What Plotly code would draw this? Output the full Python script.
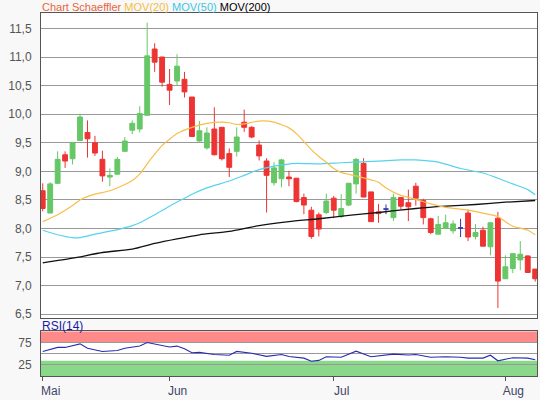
import pandas as pd
import plotly.graph_objects as go

# ---- data ----
dates = [d.strftime("%Y-%m-%d") for d in pd.bdate_range("2020-05-07", "2020-08-07")]

opens = [8.66, 8.27, 8.79, 9.29, 9.22, 9.54, 9.68, 9.50, 9.21, 8.90,
         8.95, 9.35, 9.72, 9.74, 9.98, 11.14, 11.00, 10.52, 10.58, 10.61,
         10.30, 9.53, 9.41, 9.74, 9.77, 9.31, 9.35, 9.86, 9.77, 9.46,
         9.18, 8.80, 8.87, 8.90, 8.88, 8.54, 8.32, 8.24, 8.28, 8.53,
         8.21, 8.41, 8.78, 9.14, 8.64, 8.29, 8.34, 8.19, 8.54, 8.45,
         8.74, 8.49, 8.17, 7.90, 8.00, 7.96, 8.01, 8.27, 7.86, 7.97,
         7.68, 8.18, 7.12, 7.30, 7.45, 7.52, 7.29]
highs = [8.79, 8.81, 9.35, 9.35, 9.51, 10.01, 9.89, 9.62, 9.36, 9.05,
         9.25, 9.60, 9.89, 10.14, 11.60, 11.24, 11.00, 10.79, 11.05, 10.74,
         10.30, 9.88, 9.77, 10.12, 9.77, 9.40, 9.77, 10.08, 9.79, 9.54,
         9.23, 9.16, 9.22, 9.01, 8.88, 8.61, 8.38, 8.28, 8.61, 8.57,
         8.60, 8.80, 9.23, 9.23, 8.64, 8.43, 8.42, 8.61, 8.55, 8.68,
         8.80, 8.52, 8.19, 8.22, 8.24, 8.14, 8.17, 8.33, 8.08, 8.03,
         8.10, 8.29, 7.53, 7.56, 7.78, 7.53, 7.29]
lows = [8.30, 8.27, 8.78, 9.06, 9.12, 9.54, 9.24, 9.27, 8.82, 8.74,
        8.94, 9.34, 9.65, 9.68, 9.98, 10.74, 10.48, 10.16, 10.50, 10.29,
        9.60, 9.52, 9.38, 9.28, 9.19, 8.90, 9.26, 9.69, 9.58, 9.19,
        8.28, 8.75, 8.72, 8.74, 8.46, 8.25, 7.82, 7.86, 8.25, 8.18,
        8.18, 8.39, 8.61, 8.55, 8.12, 8.10, 8.25, 8.13, 8.34, 8.13,
        8.40, 8.07, 7.90, 7.90, 7.99, 7.91, 7.85, 7.78, 7.81, 7.69,
        7.53, 6.61, 7.12, 7.22, 7.27, 7.23, 7.07]
closes = [8.35, 8.78, 9.21, 9.18, 9.50, 9.95, 9.57, 9.32, 8.92, 8.93,
          9.21, 9.53, 9.84, 10.01, 11.02, 10.91, 10.56, 10.42, 10.84, 10.39,
          9.61, 9.71, 9.67, 9.29, 9.22, 9.07, 9.60, 9.77, 9.60, 9.27,
          8.93, 9.06, 9.20, 8.87, 8.47, 8.41, 7.86, 7.99, 8.48, 8.32,
          8.35, 8.79, 9.21, 8.55, 8.12, 8.26, 8.34, 8.54, 8.39, 8.38,
          8.53, 8.19, 7.93, 8.07, 8.10, 8.08, 8.01, 7.85, 7.93, 7.69,
          8.10, 7.08, 7.33, 7.56, 7.55, 7.23, 7.12]

ma20_idx = [0, 2, 4, 5, 7, 9, 11, 12, 13, 14, 15, 16, 17, 18, 20, 22, 24, 25, 26, 27,
            29, 31, 33, 34, 35, 36, 37, 38, 39, 40, 42, 44, 45, 46, 48, 50, 52, 54, 57,
            59, 61, 62, 63, 65, 66]
ma20_val = [8.12, 8.24, 8.40, 8.50, 8.60, 8.66, 8.77, 8.84, 8.95, 9.13, 9.30, 9.45, 9.56,
            9.66, 9.77, 9.84, 9.86, 9.85, 9.82, 9.83, 9.88, 9.86, 9.76, 9.66, 9.52, 9.38,
            9.26, 9.16, 9.05, 8.98, 8.92, 8.85, 8.81, 8.71, 8.58, 8.51, 8.43, 8.37, 8.32,
            8.27, 8.21, 8.12, 8.04, 7.97, 7.89]

ma50_idx = [0, 2, 4, 5, 7, 10, 12, 13, 15, 17, 19, 20, 22, 25, 27, 29, 31, 34, 37, 40,
            45, 48, 50, 53, 56, 59, 61, 63, 65, 66]
ma50_val = [7.97, 7.89, 7.84, 7.84, 7.90, 7.98, 8.05, 8.10, 8.24, 8.39, 8.53, 8.60, 8.71,
            8.83, 8.93, 9.03, 9.09, 9.14, 9.13, 9.15, 9.18, 9.20, 9.20, 9.16, 9.05, 8.97,
            8.88, 8.78, 8.68, 8.59]

ma200_idx = [0, 4, 8, 12, 15, 18, 21, 25, 29, 33, 37, 41, 45, 50, 54, 58, 62, 66]
ma200_val = [7.40, 7.48, 7.58, 7.64, 7.74, 7.82, 7.89, 7.95, 8.05, 8.12, 8.17, 8.23, 8.28,
             8.35, 8.39, 8.42, 8.46, 8.49]

rsi_idx = [0, 2, 3, 5, 6, 8, 10, 11, 13, 14, 17, 18, 19, 20, 21, 23, 25, 26, 28, 30, 32,
           33, 35, 36, 37, 38, 40, 42, 44, 45, 47, 49, 50, 52, 54, 56, 57, 59, 60, 61, 63,
           65, 66]
rsi_val = [55, 64, 64, 72, 62, 55, 57, 62, 67, 75, 65, 67, 61, 52, 53, 48, 46.5, 55, 51,
           44, 48, 43.5, 40, 33, 35, 43, 42, 55.5, 43, 45, 49, 47, 48, 42, 43, 42, 40, 40,
           46.5, 34, 41, 40, 36.5]

month_idx = [0, 17, 39, 62]
month_labels = ["Mai", "Jun", "Jul", "Aug"]

# ---- styling ----
RED = "#EE3333"
GREEN = "#66C766"
DOJI = "#3333AA"
C20 = "#F7BE4C"
C50 = "#55D3EE"
C200 = "#111111"
FONT = "Liberation Sans, Arial, sans-serif"

is_doji = [o == c for o, c in zip(opens, closes)]

fig = go.Figure()

def sub(lst, mask):
    return [v if m else None for v, m in zip(lst, mask)]

normal = [not d for d in is_doji]
fig.add_trace(go.Candlestick(
    x=dates, open=sub(opens, normal), high=sub(highs, normal),
    low=sub(lows, normal), close=sub(closes, normal),
    increasing=dict(line=dict(color=GREEN, width=1), fillcolor=GREEN),
    decreasing=dict(line=dict(color=RED, width=1), fillcolor=RED),
    whiskerwidth=0, showlegend=False, hoverinfo="skip",
    xaxis="x", yaxis="y"))

fig.add_trace(go.Candlestick(
    x=dates, open=sub(opens, is_doji), high=sub(highs, is_doji),
    low=sub(lows, is_doji), close=sub(closes, is_doji),
    increasing=dict(line=dict(color=DOJI, width=1), fillcolor=DOJI),
    decreasing=dict(line=dict(color=DOJI, width=1), fillcolor=DOJI),
    whiskerwidth=0, showlegend=False, hoverinfo="skip",
    xaxis="x", yaxis="y"))

for idx, val, col, w in [(ma200_idx, ma200_val, C200, 1.3),
                         (ma50_idx, ma50_val, C50, 1.2),
                         (ma20_idx, ma20_val, C20, 1.2)]:
    fig.add_trace(go.Scatter(
        x=[dates[i] for i in idx], y=val, mode="lines",
        line=dict(color=col, width=w, shape="spline", smoothing=0.6),
        showlegend=False, hoverinfo="skip", xaxis="x", yaxis="y"))

fig.add_trace(go.Scatter(
    x=[dates[i] for i in rsi_idx], y=rsi_val, mode="lines",
    line=dict(color="#2B2BB0", width=1.1),
    showlegend=False, hoverinfo="skip", xaxis="x2", yaxis="y2"))

# RSI bands
fig.add_shape(type="rect", xref="x2 domain", yref="y2", x0=0, x1=1, y0=75, y1=100,
              fillcolor="#FF8A8A", line=dict(width=0), layer="below")
fig.add_shape(type="rect", xref="x2 domain", yref="y2", x0=0, x1=1, y0=0, y1=34,
              fillcolor="#8AD88A", line=dict(width=0), layer="below")

top_mask = 12.5
bottom_mask = 21.7
H = 400
ph = H - top_mask - bottom_mask
main_bot = (H - bottom_mask - 319.5) / ph
rsi_top = (H - bottom_mask - 333.3) / ph

axis_common = dict(showline=True, linecolor="#555555", linewidth=1, mirror=True,
                   zeroline=False)
x_range = [-0.23, 66.24]

fig.update_layout(
    width=540, height=400,
    margin=dict(l=41, r=2, t=top_mask, b=bottom_mask),
    paper_bgcolor="#F8F8F8", plot_bgcolor="#FFFFFF",
    separators=",.",
    boxgap=0.35, boxgroupgap=0,
    font=dict(family=FONT, size=11, color="#555555"),
    xaxis=dict(type="category", categoryorder="array", categoryarray=dates,
               domain=[0, 1], anchor="y", matches="x2", showticklabels=False,
               showgrid=False, rangeslider=dict(visible=False), ticks="",
               range=x_range, **axis_common),
    yaxis=dict(domain=[main_bot, 1], range=[6.44, 11.77], dtick=0.5, tick0=6.5,
               tickformat=".1f", showgrid=True, gridcolor="#999999", gridwidth=1,
               ticks="", ticklabelstandoff=6,
               tickfont=dict(size=12, color="#555555"), **axis_common),
    xaxis2=dict(type="category", categoryorder="array", categoryarray=dates,
                domain=[0, 1], anchor="y2", showgrid=False,
                tickvals=[dates[i] for i in month_idx], ticktext=month_labels,
                ticks="outside", ticklen=4, tickcolor="#555555",
                ticklabelshift=8, tickangle=0,
                tickfont=dict(size=12, color="#444466"),
                range=x_range, **axis_common),
    yaxis2=dict(domain=[0, rsi_top], range=[0, 100], tickvals=[25, 50, 75],
                ticktext=["25", "", "75"], showgrid=True, gridcolor="#999999",
                ticks="", ticklabelstandoff=6,
                tickfont=dict(size=12, color="#555555"), **axis_common),
)

fig.add_annotation(
    xref="paper", yref="paper", x=0, y=1, xanchor="left", yanchor="top",
    yshift=top_mask + 0.5, borderpad=0, showarrow=False,
    text=("<span style='color:#E8643C'>Chart Schaeffler</span> "
          "<span style='color:#F5BE3C'>MOV(20)</span> "
          "<span style='color:#3CC6E6'>MOV(50)</span> "
          "<span style='color:#000000'>MOV(200)</span>"),
    font=dict(family=FONT, size=11))

fig.add_annotation(
    xref="paper", yref="paper", x=0, y=rsi_top, xanchor="left", yanchor="bottom",
    yshift=-3, borderpad=0, showarrow=False, text="RSI(14)",
    font=dict(family=FONT, size=12, color="#1A1AAA"))

fig.write_html(
    "out.html",
    config={"displayModeBar": False, "staticPlot": True},
    post_script="document.body.style.margin='0';document.body.style.overflow='hidden';",
)
